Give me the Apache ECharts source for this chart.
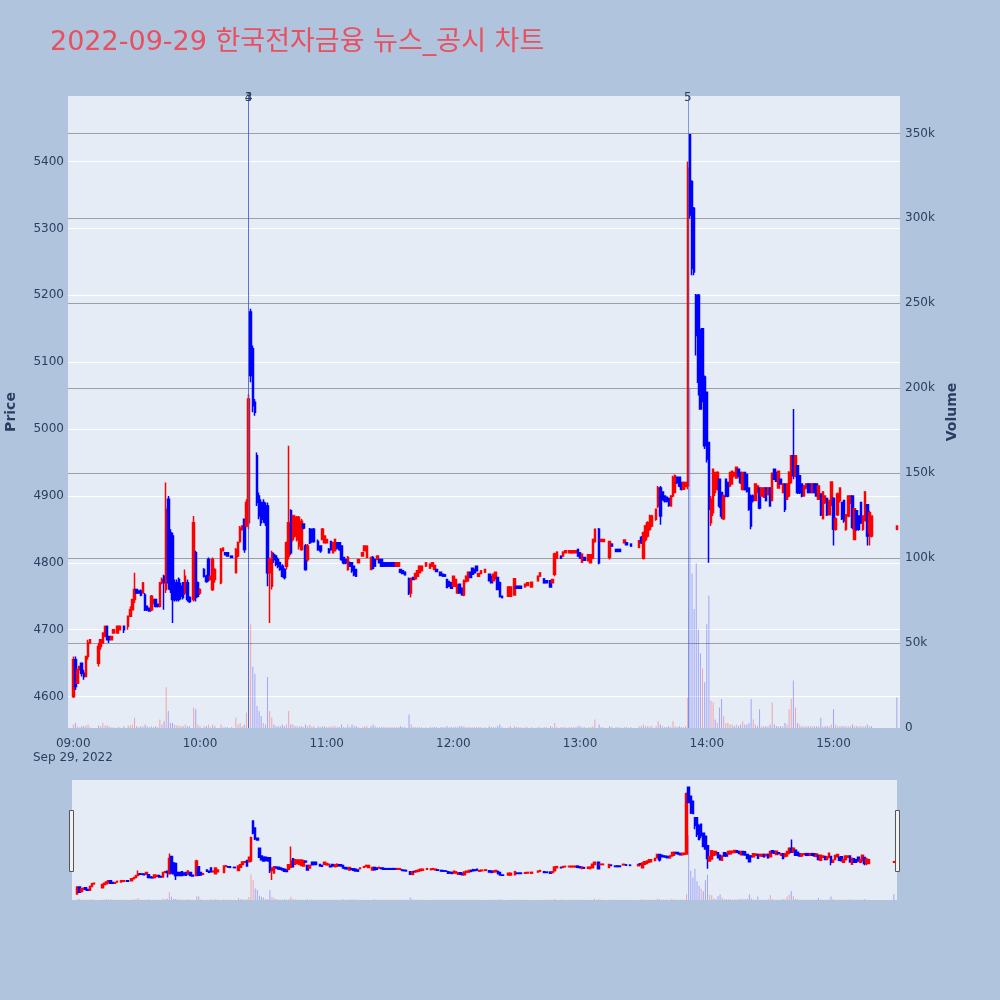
<!DOCTYPE html>
<html><head><meta charset="utf-8">
<script src="https://cdn.jsdelivr.net/npm/echarts@6/dist/echarts.min.js"></script>
<style>html,body{margin:0;padding:0;background:#b0c4de;}#c{width:1000px;height:1000px;}</style>
</head><body><div id="c"></div>
<script>
// rows: [time, open, close, low, high, volume]
const seg09 = [
["09:00",4600,4655,4598,4660,2000],["09:01",4655,4615,4610,4660,3000],["09:02",4620,4640,4620,4640,1000],
["09:03",4640,4645,4640,4645,500],["09:04",4650,4635,4630,4650,1000],["09:05",4635,4630,4625,4640,1000],
["09:06",4630,4660,4630,4660,1500],["09:07",4660,4680,4655,4685,2000],["09:08",4680,4685,4680,4685,500],
["09:12",4650,4675,4645,4680,1500],["09:13",4675,4685,4670,4685,1000],["09:14",4680,4695,4680,4695,3000],
["09:15",4690,4705,4690,4705,1500],["09:16",4705,4685,4685,4705,1500],["09:17",4690,4685,4680,4690,1000],
["09:18",4685,4690,4685,4690,500],["09:19",4695,4700,4695,4700,500],["09:21",4695,4705,4695,4705,500],
["09:22",4700,4705,4700,4705,500],["09:24",4705,4700,4695,4705,1000],["09:26",4705,4720,4700,4720,1500],
["09:27",4720,4730,4720,4735,1500],["09:28",4730,4745,4730,4745,2000],["09:29",4745,4760,4740,4785,6000],
["09:30",4760,4755,4755,4760,1000],["09:31",4758,4755,4755,4758,500],["09:32",4758,4752,4750,4760,1000],
["09:33",4755,4770,4755,4770,1000],["09:34",4752,4730,4728,4755,2000],["09:35",4735,4730,4728,4735,1000],
["09:36",4732,4728,4728,4732,500],["09:37",4730,4750,4728,4752,1000],["09:38",4740,4745,4738,4745,500],
["09:39",4745,4735,4733,4745,1000],["09:40",4738,4735,4733,4738,500],["09:41",4735,4770,4733,4770,5000],
["09:42",4770,4775,4768,4778,2000],["09:43",4780,4770,4730,4782,4000],["09:44",4760,4880,4755,4920,24000],
["09:45",4895,4770,4760,4900,10000],["09:46",4845,4760,4755,4850,3000],["09:47",4840,4745,4710,4845,3000],
["09:48",4770,4745,4742,4775,2000],["09:49",4770,4745,4742,4775,1500],["09:50",4775,4745,4742,4778,1500],
["09:51",4765,4750,4745,4770,1000],["09:52",4770,4748,4745,4770,1000],["09:53",4755,4780,4752,4790,2000],
["09:54",4770,4745,4742,4775,1000],["09:55",4748,4742,4740,4750,1000],["09:57",4745,4860,4742,4870,12000],
["09:58",4815,4748,4742,4818,11000],["09:59",4770,4750,4748,4772,2000]
];
const seg10 = [
["10:00",4755,4760,4752,4762,1000],["10:02",4790,4780,4778,4792,1000],["10:03",4780,4772,4770,4782,1000],
["10:04",4805,4775,4772,4808,2000],["10:05",4775,4780,4775,4780,500],["10:06",4760,4805,4758,4808,2000],
["10:07",4775,4790,4770,4792,1000],["10:10",4770,4820,4768,4822,2000],["10:11",4818,4822,4818,4822,500],
["10:12",4815,4812,4812,4815,500],["10:13",4815,4810,4810,4815,500],["10:15",4810,4808,4808,4810,500],
["10:17",4785,4820,4785,4822,6000],["10:18",4810,4830,4808,4832,2000],["10:19",4832,4852,4830,4855,3000],
["10:20",4850,4855,4848,4855,1000],["10:21",4865,4820,4815,4866,2000],["10:22",4855,4890,4853,4895,9000],
["10:23",4860,5045,4850,5052,80000],["10:24",5175,5080,5070,5180,61000],["10:25",5120,5035,5025,5125,36000],
["10:26",5040,5025,5020,5045,32000],["10:27",4960,4890,4885,4965,13000],["10:28",4900,4870,4865,4905,10000],
["10:29",4890,4860,4855,4895,7000],["10:30",4890,4865,4860,4895,3000],["10:31",4885,4860,4855,4890,2000],
["10:32",4885,4785,4765,4890,30000],["10:33",4785,4805,4710,4808,10000],["10:34",4765,4815,4760,4818,6000],
["10:35",4812,4805,4800,4815,2000],["10:36",4810,4798,4795,4812,1000],["10:37",4805,4795,4792,4808,1000],
["10:38",4800,4790,4788,4802,1000],["10:39",4795,4780,4778,4798,2000],["10:40",4790,4778,4775,4792,1000],
["10:41",4795,4830,4790,4832,2000],["10:42",4810,4860,4805,4975,10000],["10:43",4878,4815,4812,4880,2000],
["10:44",4835,4870,4832,4872,2000],["10:45",4840,4868,4838,4872,1000],["10:46",4835,4868,4832,4870,1000],
["10:47",4825,4868,4820,4870,1000],["10:48",4820,4862,4818,4866,1000],["10:49",4858,4852,4850,4858,500],
["10:50",4825,4790,4788,4828,2000],["10:51",4805,4825,4802,4828,1000],["10:52",4850,4830,4828,4852,2000],
["10:53",4850,4832,4830,4850,1000],["10:54",4850,4832,4830,4852,1000],["10:56",4832,4820,4818,4835,1000],
["10:57",4825,4818,4815,4825,500],["10:58",4835,4850,4835,4852,1000],["10:59",4830,4840,4830,4840,1000]
];
const seg11 = [
["11:00",4830,4835,4830,4836,500],["11:01",4820,4815,4815,4822,500],["11:02",4832,4820,4818,4832,1000],
["11:03",4815,4830,4815,4830,1000],["11:04",4818,4835,4818,4835,1000],["11:05",4830,4822,4820,4830,500],
["11:06",4830,4820,4818,4830,500],["11:07",4825,4805,4803,4825,2000],["11:08",4808,4800,4798,4808,500],
["11:09",4805,4800,4798,4805,500],["11:10",4790,4808,4788,4810,2000],["11:11",4800,4795,4795,4802,500],
["11:12",4800,4788,4785,4800,2000],["11:13",4795,4782,4780,4795,1000],["11:14",4790,4780,4780,4790,1000],
["11:15",4800,4805,4800,4805,500],["11:17",4810,4815,4810,4815,500],["11:18",4818,4825,4818,4825,1000],
["11:19",4808,4825,4808,4825,1000],["11:21",4790,4808,4790,4808,1000],["11:22",4808,4792,4790,4810,2000],
["11:23",4805,4795,4795,4805,1000],["11:24",4805,4810,4805,4810,500],["11:25",4805,4800,4800,4805,500],
["11:26",4805,4795,4795,4805,500],["11:27",4800,4795,4795,4800,500],["11:28",4800,4795,4795,4800,500],
["11:29",4800,4795,4795,4800,500],["11:30",4800,4795,4795,4800,500],["11:31",4800,4795,4795,4800,500],
["11:32",4800,4795,4795,4800,500],["11:33",4795,4800,4795,4800,500],["11:34",4795,4800,4795,4800,500],
["11:35",4790,4786,4786,4790,1000],["11:36",4788,4784,4784,4788,500],["11:37",4786,4782,4782,4786,500],
["11:39",4776,4755,4752,4778,8000],["11:40",4755,4776,4748,4778,2000],["11:41",4778,4775,4775,4778,500],
["11:42",4776,4784,4776,4784,500],["11:43",4780,4788,4780,4788,500],["11:44",4785,4795,4785,4795,500],
["11:45",4788,4795,4788,4795,500],["11:47",4795,4800,4795,4800,500],["11:49",4792,4798,4792,4798,500],
["11:50",4795,4800,4795,4800,500],["11:51",4790,4796,4790,4796,500],["11:52",4790,4787,4787,4790,500],
["11:54",4786,4781,4781,4786,500],["11:55",4783,4780,4780,4783,500],["11:56",4782,4780,4780,4782,500],
["11:57",4775,4763,4762,4775,1000],["11:58",4772,4765,4765,4772,500],["11:59",4770,4762,4762,4770,500]
];
const seg12 = [
["12:00",4765,4780,4765,4780,500],["12:01",4765,4775,4765,4775,500],["12:02",4755,4767,4755,4767,500],
["12:03",4768,4755,4755,4768,1000],["12:04",4762,4752,4752,4762,1000],["12:05",4752,4773,4750,4775,1000],
["12:06",4772,4780,4772,4780,500],["12:07",4773,4786,4773,4786,500],["12:08",4786,4778,4778,4786,500],
["12:09",4792,4783,4783,4792,500],["12:10",4790,4785,4785,4790,500],["12:11",4795,4788,4788,4795,500],
["12:12",4780,4784,4780,4784,500],["12:13",4784,4788,4784,4788,500],["12:15",4786,4790,4786,4790,500],
["12:17",4783,4773,4773,4783,1000],["12:18",4780,4770,4770,4780,500],["12:19",4773,4783,4773,4783,500],
["12:20",4776,4786,4776,4786,500],["12:21",4778,4760,4760,4778,1000],["12:22",4770,4750,4748,4772,2000],
["12:23",4750,4748,4748,4750,500],["12:26",4750,4764,4750,4764,500],["12:27",4750,4764,4750,4764,1000],
["12:29",4752,4776,4752,4776,1000],["12:30",4765,4762,4762,4765,500],["12:31",4765,4762,4762,4765,500],
["12:32",4765,4762,4762,4765,500],["12:34",4764,4768,4764,4768,500],["12:35",4766,4770,4766,4770,500],
["12:37",4764,4771,4764,4771,500],["12:40",4773,4780,4773,4780,500],["12:41",4780,4785,4780,4785,500],
["12:43",4776,4770,4770,4776,500],["12:44",4773,4770,4770,4773,500],["12:46",4773,4764,4764,4773,1000],
["12:47",4770,4775,4770,4775,500],["12:48",4783,4813,4780,4815,3000],["12:49",4807,4816,4807,4816,500],
["12:51",4810,4807,4807,4810,500],["12:52",4810,4816,4810,4816,500],["12:53",4815,4818,4815,4818,500],
["12:55",4815,4818,4815,4818,500],["12:56",4815,4818,4815,4818,500],["12:57",4815,4818,4815,4818,500],
["12:58",4815,4818,4815,4818,500],["12:59",4820,4810,4810,4820,1000]
];
const seg13 = [
["13:00",4815,4807,4807,4815,1000],["13:01",4801,4813,4801,4813,500],["13:02",4808,4804,4804,4808,500],
["13:04",4803,4812,4803,4812,500],["13:05",4800,4812,4800,4812,500],["13:06",4807,4835,4807,4835,1000],
["13:07",4832,4850,4830,4850,5000],["13:09",4850,4800,4798,4852,2000],["13:10",4832,4835,4832,4835,500],
["13:11",4832,4835,4832,4835,500],["13:14",4808,4832,4805,4832,1000],["13:15",4828,4825,4825,4828,500],
["13:17",4820,4817,4817,4820,500],["13:18",4820,4817,4817,4820,500],["13:19",4820,4817,4817,4820,500],
["13:21",4830,4834,4830,4834,500],["13:22",4830,4827,4827,4830,500],["13:24",4828,4825,4825,4828,500],
["13:28",4823,4833,4823,4833,1000],["13:29",4838,4830,4828,4840,1000],["13:30",4807,4845,4805,4847,2000],
["13:31",4835,4855,4832,4857,1000],["13:32",4840,4860,4838,4862,1000],["13:33",4850,4870,4848,4872,1000],
["13:34",4855,4870,4853,4872,1000],["13:36",4865,4880,4863,4881,1000],["13:37",4885,4912,4882,4915,4000],
["13:38",4912,4870,4857,4915,2000],["13:39",4906,4895,4893,4906,1000],["13:40",4900,4893,4890,4900,500],
["13:41",4898,4892,4890,4898,500],["13:42",4896,4886,4884,4896,1000],["13:43",4885,4900,4885,4900,500],
["13:44",4900,4928,4898,4930,4000],["13:45",4905,4930,4905,4932,1000],["13:46",4928,4920,4918,4928,500],
["13:47",4928,4915,4913,4928,1000],["13:48",4920,4910,4908,4920,500],["13:49",4910,4920,4910,4920,500],
["13:50",4914,4920,4914,4920,1000],["13:51",4915,5390,4910,5400,18000],["13:52",5440,5320,5315,5440,200000],
["13:53",5370,5240,5230,5372,91000],["13:54",5330,5235,5230,5332,70000],["13:55",5200,5140,5110,5202,97000],
["13:56",5200,5070,5050,5202,58000],["13:57",5140,5030,5030,5150,44000],["13:58",5150,5060,5040,5150,35000],
["13:59",5078,4975,4970,5080,27000]
];
const seg14 = [
["14:00",5055,4955,4950,5055,61000],["14:01",4980,4880,4800,4980,78000],["14:02",4860,4895,4855,4900,16000],
["14:03",4875,4940,4870,4940,15000],["14:04",4905,4935,4900,4935,5000],["14:05",4910,4935,4908,4937,3000],
["14:06",4925,4885,4882,4925,12000],["14:07",4905,4870,4866,4905,17000],["14:08",4866,4900,4864,4902,7000],
["14:09",4925,4900,4898,4925,3000],["14:10",4920,4900,4898,4920,3000],["14:11",4915,4935,4913,4935,2000],
["14:12",4918,4937,4918,4938,2000],["14:13",4930,4935,4928,4935,1000],["14:14",4927,4943,4927,4943,2000],
["14:15",4940,4930,4928,4940,1000],["14:16",4935,4920,4918,4935,2000],["14:17",4910,4935,4908,4935,4000],
["14:18",4935,4910,4908,4935,2000],["14:19",4932,4907,4905,4932,2000],["14:20",4912,4880,4878,4912,3000],
["14:21",4900,4855,4850,4902,17000],["14:22",4900,4893,4890,4902,5000],["14:23",4893,4918,4893,4918,2000],
["14:24",4905,4915,4905,4915,1000],["14:25",4912,4882,4880,4912,11000],["14:26",4900,4912,4900,4912,1000],
["14:27",4898,4912,4898,4912,1000],["14:28",4912,4893,4893,4912,1000],["14:29",4902,4912,4902,4912,1000],
["14:30",4912,4885,4885,4912,2000],["14:31",4893,4934,4893,4935,15000],["14:32",4940,4925,4925,4940,2000],
["14:33",4935,4922,4922,4935,1000],["14:34",4912,4937,4912,4937,1000],["14:35",4925,4918,4918,4925,1000],
["14:36",4905,4918,4905,4918,1000],["14:37",4918,4880,4876,4918,3000],["14:38",4895,4918,4895,4918,2000],
["14:39",4900,4935,4898,4937,11000],["14:40",4920,4960,4918,4960,17000],["14:41",4960,4930,4925,5030,28000],
["14:42",4930,4960,4928,4960,12000],["14:43",4945,4905,4903,4945,3000],["14:44",4930,4905,4903,4930,2000],
["14:45",4918,4900,4898,4918,1000],["14:46",4900,4915,4900,4915,1000],["14:47",4912,4918,4910,4918,1000],
["14:48",4918,4905,4905,4918,1000],["14:49",4918,4905,4905,4918,1000],["14:50",4905,4918,4905,4918,1000],
["14:51",4918,4905,4905,4918,1000],["14:52",4918,4900,4900,4918,1000],["14:53",4895,4915,4895,4915,1000],
["14:54",4903,4872,4870,4903,6000],["14:55",4866,4906,4866,4906,1000],["14:56",4890,4900,4888,4900,1000],
["14:57",4896,4872,4870,4896,1000],["14:58",4872,4893,4872,4893,1000],["14:59",4887,4921,4885,4921,2000]
];
const seg15 = [
["15:00",4896,4850,4826,4898,11000],["15:01",4850,4866,4848,4868,2000],["15:02",4872,4903,4870,4905,1000],
["15:03",4893,4912,4890,4912,1000],["15:04",4890,4866,4864,4890,1000],["15:05",4893,4863,4860,4893,1000],
["15:06",4850,4872,4848,4872,1000],["15:07",4870,4900,4868,4900,1000],["15:08",4890,4900,4888,4900,1000],
["15:09",4900,4853,4850,4900,2000],["15:10",4835,4881,4835,4881,1000],["15:11",4878,4850,4848,4878,1000],
["15:12",4870,4850,4848,4870,1000],["15:13",4890,4860,4858,4890,1000],["15:14",4850,4870,4848,4870,1000],
["15:15",4863,4906,4863,4906,1000],["15:16",4887,4840,4826,4888,2000],["15:17",4845,4875,4826,4878,1000],
["15:18",4840,4870,4838,4870,1000],["15:30",4850,4855,4850,4855,18000]
];
const hourLabels = ["09:00","10:00","11:00","12:00","13:00","14:00","15:00"];
const eventLines = [["10:23","3"],["10:23","4"],["13:51","5"]];
const titleText = "2022-09-29 한국전자금융 뉴스_공시 차트";

const candles = [].concat(seg09, seg10, seg11, seg12, seg13, seg14, seg15);
function pad(n){return (n<10?'0':'')+n;}
const categories = [];
for (let m = 8*60+58; m <= 15*60+31; m++) categories.push(pad(Math.floor(m/60))+':'+pad(m%60));

const UP='#ff0000', DOWN='#0000ff';
const candleData = candles.map(r => [r[0], r[1], r[2], r[3], r[4]]);
const volData = candles.map((r,i) => {
  const prev = i>0 ? candles[i-1][2] : r[1];
  const up = r[2] >= prev;
  return {value:[r[0], r[5]], itemStyle:{color: up ? 'rgba(255,0,0,0.3)' : 'rgba(0,0,255,0.3)'}};
});
const FONT = "'DejaVu Sans', Verdana, 'Noto Sans CJK KR', sans-serif";
const TXT = '#2a3f5f';
const PMIN = 4553, PMAX = 5498, VMAX = 372000;

const candleStyle = {color:UP,color0:DOWN,borderColor:UP,borderColor0:DOWN,borderWidth:1.5};

const chart = echarts.init(document.getElementById('c'), null, {renderer:'canvas'});
chart.setOption({
  animation:false,
  backgroundColor:'#b0c4de',
  title:{text:titleText,left:45,top:24,textStyle:{fontFamily:FONT,fontSize:27,fontWeight:'normal',color:'#e8505f'}},
  grid:[
    {left:68,right:100,top:96,bottom:272,show:true,backgroundColor:'#e5ecf6',borderWidth:0,containLabel:false,outerBoundsMode:'none'},
    {left:72,right:103,top:780,bottom:100,show:true,backgroundColor:'#e5ecf6',borderWidth:0,containLabel:false,outerBoundsMode:'none'}
  ],
  xAxis:[
    {type:'category',gridIndex:0,data:categories,boundaryGap:true,
     axisLine:{show:false},axisTick:{show:false},splitLine:{show:false},
     axisLabel:{interval:(i,v)=>hourLabels.indexOf(v)>=0,color:TXT,fontFamily:FONT,fontSize:12,margin:10}},
    {type:'category',gridIndex:1,data:categories,boundaryGap:true,show:false}
  ],
  yAxis:[
    {type:'value',gridIndex:0,position:'left',min:PMIN,max:PMAX,splitNumber:9,
     name:'Price',nameLocation:'middle',nameGap:50,nameRotate:90,
     nameTextStyle:{color:TXT,fontFamily:FONT,fontSize:14,fontWeight:'bold'},
     axisLine:{show:false},axisTick:{show:false},
     axisLabel:{color:TXT,fontFamily:FONT,fontSize:12,margin:4,showMinLabel:false,showMaxLabel:false,
       formatter:v=>String(v)},
     splitLine:{show:true,showMinLine:false,showMaxLine:false,lineStyle:{color:'#ffffff',width:1}}},
    {type:'value',gridIndex:0,position:'right',min:0,max:VMAX,interval:50000,
     name:'Volume',nameLocation:'middle',nameGap:45,nameRotate:90,
     nameTextStyle:{color:TXT,fontFamily:FONT,fontSize:14,fontWeight:'bold'},
     axisLine:{show:false},axisTick:{show:false},
     axisLabel:{color:TXT,fontFamily:FONT,fontSize:12,margin:5,showMaxLabel:false,
       formatter:v=>v===0?'0':(v/1000)+'k'},
     splitLine:{show:true,showMinLine:false,showMaxLine:false,lineStyle:{color:'#9f9f9f',width:1}}},
    {type:'value',gridIndex:1,min:PMIN,max:PMAX,show:false,splitLine:{show:false}},
    {type:'value',gridIndex:1,min:0,max:VMAX,show:false,splitLine:{show:false}}
  ],
  series:[
    {type:'bar',xAxisIndex:0,yAxisIndex:1,data:volData,encode:{x:0,y:1},barWidth:1,z:2},
    {type:'candlestick',xAxisIndex:0,yAxisIndex:0,data:candleData,encode:{x:0,y:[1,2,3,4]},
     barWidth:2,itemStyle:candleStyle,z:3,
     markLine:{silent:true,symbol:['none','none'],animation:false,
       lineStyle:{color:'rgba(60,95,210,0.6)',width:1,type:'solid'},
       label:{show:true,position:'end',formatter:'{b}',color:TXT,fontFamily:FONT,fontSize:12,distance:-8},
       data:eventLines.map(e=>({xAxis:e[0],name:e[1]}))}},
    {type:'bar',xAxisIndex:1,yAxisIndex:3,data:volData,encode:{x:0,y:1},barWidth:1,z:2},
    {type:'candlestick',xAxisIndex:1,yAxisIndex:2,data:candleData,encode:{x:0,y:[1,2,3,4]},
     barWidth:2,itemStyle:candleStyle,z:3}
  ],
  graphic:[
    {type:'text',left:33,top:752,style:{text:'Sep 29, 2022',fill:TXT,font:"12px 'DejaVu Sans', Verdana, sans-serif"}},
    {type:'rect',left:69,top:810,shape:{width:4,height:61},style:{fill:'#f2f2f2',stroke:'#555',lineWidth:1}},
    {type:'rect',left:895,top:810,shape:{width:4,height:61},style:{fill:'#f2f2f2',stroke:'#555',lineWidth:1}}
  ]
});
</script></body></html>
